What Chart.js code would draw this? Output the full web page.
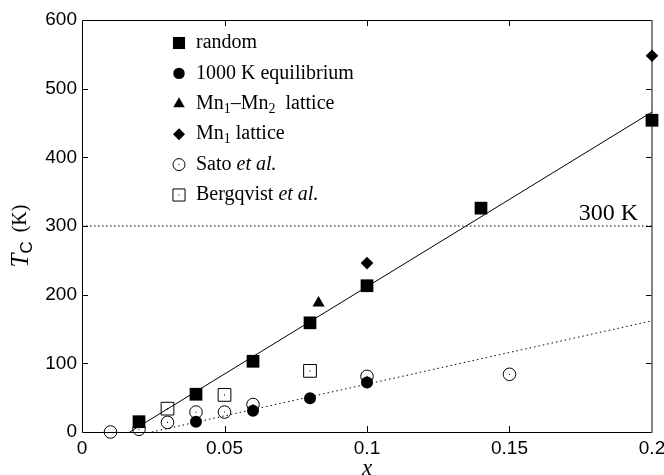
<!DOCTYPE html>
<html>
<head>
<meta charset="utf-8">
<script src="https://cdn.jsdelivr.net/npm/chart.js@4.4.0/dist/chart.umd.min.js"></script>
<style>
  html, body { margin: 0; padding: 0; background: #fff; }
</style>
</head>
<body>
<canvas id="grafico" width="664" height="475"></canvas>
<script>
// Valores (x, T_C en K)
const xRandom = [0.02, 0.04, 0.06, 0.08, 0.1, 0.14, 0.2];
const tcRandom = [15, 55, 103, 159, 213, 326, 454];
const xEquilibrio = [0.04, 0.06, 0.08, 0.1];
const tcEquilibrio = [15, 31, 49, 72];
const xMn1Mn2 = [0.083];
const tcMn1Mn2 = [188];
const xMn1 = [0.1, 0.2];
const tcMn1 = [246, 548];
const xSato = [0.01, 0.02, 0.03, 0.04, 0.05, 0.06, 0.1, 0.15];
const tcSato = [0, 4, 14, 29, 29, 40, 81, 84];
const xBergqvist = [0.03, 0.05, 0.08];
const tcBergqvist = [34, 54, 89];

// Rectas de ajuste y referencia de 300 K
const xAjusteRandom = [0.0168, 0.2];
const tcAjusteRandom = [0, 466];
const xAjusteEquilibrio = [0.0245, 0.2];
const tcAjusteEquilibrio = [0, 162];
const xRef = [0, 0.2];
const tcRef = [300, 300];

// Marcas de los ejes
const xTicks = [0, 0.05, 0.1, 0.15, 0.2];
const xTickLabels = ['0', '0.05', '0.1', '0.15', '0.2'];
const yTicks = [0, 100, 200, 300, 400, 500, 600];
const yTickLabels = ['0', '100', '200', '300', '400', '500', '600'];

const SERIF = '"Liberation Serif", "Times New Roman", serif';
const SANS = '"Liberation Sans", Arial, sans-serif';

function puntos(xs, ys) {
  return xs.map((x, i) => ({ x: x, y: ys[i] }));
}

const lleno = { backgroundColor: '#000', borderColor: '#000', borderWidth: 0, showLine: false };
const abierto = { backgroundColor: 'rgba(0,0,0,0)', borderColor: '#000', borderWidth: 1, showLine: false };

const datasets = [
  Object.assign({ label: 'random', data: puntos(xRandom, tcRandom), pointStyle: 'rect', pointRadius: 9 }, lleno),
  Object.assign({ label: '1000 K equilibrium', data: puntos(xEquilibrio, tcEquilibrio), pointStyle: 'circle', pointRadius: 6 }, lleno),
  Object.assign({ label: 'Mn1-Mn2 lattice', data: puntos(xMn1Mn2, tcMn1Mn2), pointStyle: 'triangle', pointRadius: 7 }, lleno),
  Object.assign({ label: 'Mn1 lattice', data: puntos(xMn1, tcMn1), pointStyle: 'rect', pointRotation: 45, pointRadius: 6.3 }, lleno),
  Object.assign({ label: 'Sato et al.', data: puntos(xSato, tcSato), pointStyle: 'circle', pointRadius: 6.3 }, abierto),
  Object.assign({ label: 'Bergqvist et al.', data: puntos(xBergqvist, tcBergqvist), pointStyle: 'rect', pointRadius: 9 }, abierto),
  // punto central de los marcadores abiertos
  Object.assign({ label: 'centro Sato', data: puntos(xSato.slice(1), tcSato.slice(1)), pointStyle: 'circle', pointRadius: 0.6 }, lleno),
  Object.assign({ label: 'centro Bergqvist', data: puntos(xBergqvist, tcBergqvist), pointStyle: 'circle', pointRadius: 0.6 }, lleno),
  { label: 'ajuste random', data: puntos(xAjusteRandom, tcAjusteRandom), showLine: true, pointRadius: 0,
    borderColor: '#000', borderWidth: 1 },
  { label: 'ajuste equilibrio', data: puntos(xAjusteEquilibrio, tcAjusteEquilibrio), showLine: true, pointRadius: 0,
    borderColor: '#000', borderWidth: 1, borderDash: [1.5, 3] },
  { label: '300 K', data: puntos(xRef, tcRef), showLine: true, pointRadius: 0,
    borderColor: '#000', borderWidth: 1, borderDash: [1.5, 2.5] }
];
datasets.forEach(d => { d.clip = false; });

// Leyenda dentro del área del gráfico: texto con subíndices y cursiva
const leyenda = [
  { ds: 0, partes: [{ t: 'random' }] },
  { ds: 1, partes: [{ t: '1000 K equilibrium' }] },
  { ds: 2, partes: [{ t: 'Mn' }, { t: '1', sub: true }, { t: '–Mn' }, { t: '2', sub: true }, { t: '  lattice' }] },
  { ds: 3, partes: [{ t: 'Mn' }, { t: '1', sub: true }, { t: ' lattice' }] },
  { ds: 4, partes: [{ t: 'Sato ' }, { t: 'et al.', italic: true }], punto: true },
  { ds: 5, partes: [{ t: 'Bergqvist ' }, { t: 'et al.', italic: true }], punto: true }
];

function fuente(p, base) {
  const size = p.size || (p.sub ? Math.round(base * 0.68) : base);
  return (p.italic ? 'italic ' : '') + size + 'px ' + (p.fam || SERIF);
}

function anchoPartes(ctx, partes, base) {
  let w = 0;
  partes.forEach(p => { ctx.font = fuente(p, base); w += ctx.measureText(p.t).width + (p.gap || 0); });
  return w;
}

function dibujarPartes(ctx, partes, x, y, base) {
  partes.forEach(p => {
    ctx.font = fuente(p, base);
    ctx.fillText(p.t, x, y + (p.sub ? base * 0.28 : 0));
    x += ctx.measureText(p.t).width + (p.gap || 0);
  });
}

const decoracion = {
  id: 'decoracion',
  beforeDatasetsDraw(chart) {
    const ctx = chart.ctx;
    const a = chart.chartArea;
    const sx = chart.scales.x, sy = chart.scales.y;
    ctx.save();
    ctx.strokeStyle = '#000';
    ctx.lineWidth = 1;
    ctx.beginPath();
    ctx.moveTo(a.right, a.top + 0.5);
    ctx.lineTo(a.left + 0.5, a.top + 0.5);
    ctx.lineTo(a.left + 0.5, a.bottom + 0.5);
    ctx.lineTo(a.right, a.bottom + 0.5);
    xTicks.slice(1, -1).forEach(v => {
      const px = Math.round(sx.getPixelForValue(v)) + 0.5;
      ctx.moveTo(px, a.bottom); ctx.lineTo(px, a.bottom - 6);
      ctx.moveTo(px, a.top); ctx.lineTo(px, a.top + 6);
    });
    yTicks.slice(1, -1).forEach(v => {
      const py = Math.round(sy.getPixelForValue(v)) + 0.5;
      ctx.moveTo(a.left, py); ctx.lineTo(a.left + 6, py);
      ctx.moveTo(a.right, py); ctx.lineTo(a.right - 6, py);
    });
    ctx.stroke();
    // borde derecho grisáceo como en la figura original
    ctx.strokeStyle = '#666';
    ctx.lineWidth = 1.6;
    ctx.beginPath();
    ctx.moveTo(a.right, a.top);
    ctx.lineTo(a.right, a.bottom + 1);
    ctx.stroke();
    ctx.restore();
  },
  afterDatasetsDraw(chart) {
    const ctx = chart.ctx;
    const sx = chart.scales.x, sy = chart.scales.y;
    ctx.save();
    ctx.fillStyle = '#000';
    ctx.textBaseline = 'middle';

    // etiqueta de la línea de 300 K
    ctx.textAlign = 'right';
    ctx.font = '24px ' + SERIF;
    ctx.fillText('300 K', sx.getPixelForValue(0.1951), sy.getPixelForValue(300) - 12);

    // leyenda
    ctx.textAlign = 'left';
    leyenda.forEach((e, i) => {
      const y = 43 + i * 30.4;
      const ds = chart.data.datasets[e.ds];
      ctx.fillStyle = ds.backgroundColor;
      ctx.strokeStyle = ds.borderColor;
      ctx.lineWidth = ds.borderWidth;
      Chart.helpers.drawPoint(ctx, {
        pointStyle: ds.pointStyle,
        radius: ds.pointRadius * 0.95,
        rotation: ds.pointRotation || 0,
        borderWidth: ds.borderWidth
      }, 179, y);
      ctx.fillStyle = '#000';
      if (e.punto) ctx.fillRect(178.5, y - 0.5, 1, 1);
      dibujarPartes(ctx, e.partes, 196, y, 20);
    });

    // título del eje y: T_C (K)
    const titulo = [
      { t: 'T', italic: true, size: 25 },
      { t: 'C', sub: true, fam: SANS, size: 17, gap: 9 },
      { t: '(K)', size: 20 }
    ];
    ctx.translate(21, 236);
    ctx.rotate(-Math.PI / 2);
    const w = anchoPartes(ctx, titulo, 22);
    dibujarPartes(ctx, titulo, -w / 2, 0, 22);
    ctx.restore();
  }
};

Chart.defaults.font.family = SANS;
Chart.defaults.color = '#000';

new Chart(document.getElementById('grafico'), {
  type: 'scatter',
  data: { datasets: datasets },
  options: {
    responsive: false,
    animation: false,
    devicePixelRatio: 1,
    layout: { padding: { top: 20, right: 12, left: 0, bottom: 0 }, autoPadding: false },
    plugins: { legend: { display: false }, tooltip: { enabled: false } },
    scales: {
      x: {
        type: 'linear', min: 0, max: 0.2,
        afterBuildTicks: s => { s.ticks = xTicks.map(v => ({ value: v })); },
        afterFit: s => { s.height = 43; s.paddingLeft = 0; s.paddingRight = 0; },
        grid: { display: false, drawTicks: false },
        border: { display: false },
        ticks: {
          font: { size: 19 }, padding: 5, maxRotation: 0, autoSkip: false,
          callback: (v, i) => xTickLabels[i]
        },
        title: {
          display: true, text: 'x', padding: 0,
          font: { family: SERIF, size: 23, style: 'italic', lineHeight: 0.5 }
        }
      },
      y: {
        type: 'linear', min: 0, max: 600,
        afterBuildTicks: s => { s.ticks = yTicks.map(v => ({ value: v })); },
        afterFit: s => { s.width = 82; s.paddingTop = 0; s.paddingBottom = 0; },
        grid: { display: false, drawTicks: false },
        border: { display: false },
        ticks: {
          font: { size: 19 }, padding: 5, autoSkip: false,
          callback: (v, i) => yTickLabels[i]
        }
      }
    }
  },
  plugins: [decoracion]
});
</script>
</body>
</html>
